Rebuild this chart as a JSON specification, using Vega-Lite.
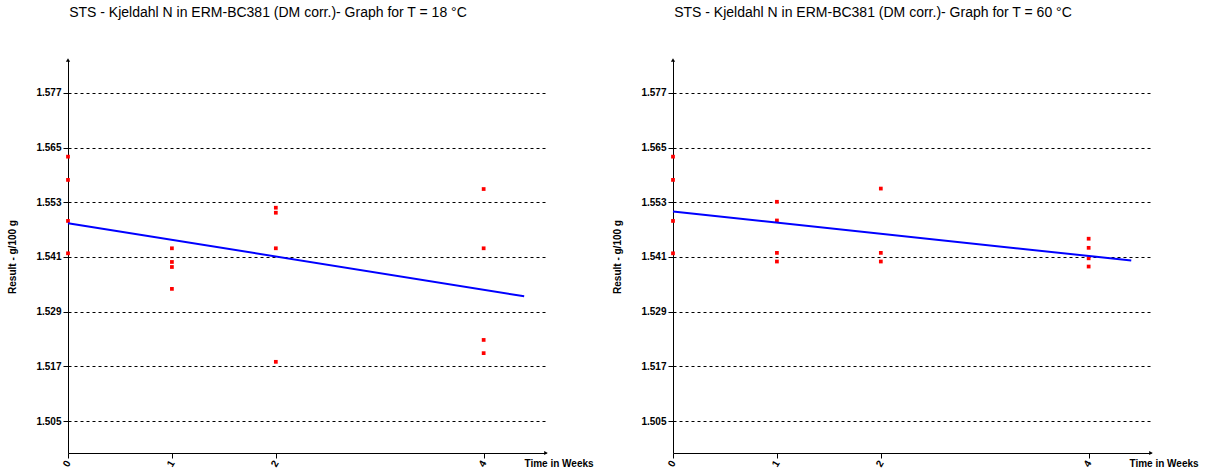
{
  "$schema": "https://vega.github.io/schema/vega-lite/v6.json",
  "background": "white",
  "padding": {"left": 7, "top": 6, "right": 0, "bottom": 0},
  "bounds": "flush",
  "spacing": 127,
  "datasets": {
    "t18": [
      {"week": 0, "result": 1.5630}, {"week": 0, "result": 1.5579}, {"week": 0, "result": 1.5489}, {"week": 0, "result": 1.5418},
      {"week": 1, "result": 1.5429}, {"week": 1, "result": 1.5399}, {"week": 1, "result": 1.5388}, {"week": 1, "result": 1.5340},
      {"week": 2, "result": 1.5518}, {"week": 2, "result": 1.5507}, {"week": 2, "result": 1.5429}, {"week": 2, "result": 1.5180},
      {"week": 4, "result": 1.5559}, {"week": 4, "result": 1.5429}, {"week": 4, "result": 1.5228}, {"week": 4, "result": 1.5199}
    ],
    "t60": [
      {"week": 0, "result": 1.5630}, {"week": 0, "result": 1.5579}, {"week": 0, "result": 1.5489}, {"week": 0, "result": 1.5418},
      {"week": 1, "result": 1.5531}, {"week": 1, "result": 1.5490}, {"week": 1, "result": 1.5419}, {"week": 1, "result": 1.5400},
      {"week": 2, "result": 1.5560}, {"week": 2, "result": 1.5419}, {"week": 2, "result": 1.5400},
      {"week": 4, "result": 1.5450}, {"week": 4, "result": 1.5430}, {"week": 4, "result": 1.5407}, {"week": 4, "result": 1.5389}
    ],
    "axisEnds": [
      {"week": 0, "result": 1.5842, "dir": "up"},
      {"week": 4.6, "result": 1.498, "dir": "right"}
    ]
  },
  "hconcat": [
    {
      "width": 478,
      "height": 393,
      "title": {"text": "STS - Kjeldahl N in ERM-BC381 (DM corr.)- Graph for T = 18 °C", "dx": -39},
      "layer": [
        {
          "data": {"name": "t18"},
          "mark": {"type": "point", "shape": "square", "filled": true, "size": 14, "color": "#ff0000", "opacity": 1},
          "encoding": {
            "x": {"field": "week", "type": "quantitative", "scale": {"domain": [0, 4.6], "nice": false, "zero": false},
                  "axis": {"values": [0, 1, 2, 4], "format": "d", "title": "Time in  Weeks", "titleX": 456, "titleY": 10}},
            "y": {"field": "result", "type": "quantitative", "scale": {"domain": [1.498, 1.5842], "nice": false, "zero": false},
                  "axis": {"values": [1.505, 1.517, 1.529, 1.541, 1.553, 1.565, 1.577], "format": ".3f", "title": "Result - g/100 g"}}
          }
        },
        {
          "data": {"name": "t18"},
          "transform": [{"regression": "result", "on": "week", "extent": [0, 4.39]}],
          "mark": {"type": "line", "color": "#0000ff", "strokeWidth": 2},
          "encoding": {
            "x": {"field": "week", "type": "quantitative"},
            "y": {"field": "result", "type": "quantitative"}
          }
        },
        {
          "data": {"name": "axisEnds"},
          "mark": {"type": "point", "filled": true, "color": "black", "size": 18, "opacity": 1},
          "encoding": {
            "x": {"field": "week", "type": "quantitative"},
            "y": {"field": "result", "type": "quantitative"},
            "shape": {"field": "dir", "type": "nominal", "scale": {"domain": ["up", "right"], "range": ["triangle-up", "triangle-right"]}, "legend": null}
          }
        }
      ]
    },
    {
      "width": 478,
      "height": 393,
      "title": {"text": "STS - Kjeldahl N in ERM-BC381 (DM corr.)- Graph for T = 60 °C", "dx": -39},
      "layer": [
        {
          "data": {"name": "t60"},
          "mark": {"type": "point", "shape": "square", "filled": true, "size": 14, "color": "#ff0000", "opacity": 1},
          "encoding": {
            "x": {"field": "week", "type": "quantitative", "scale": {"domain": [0, 4.6], "nice": false, "zero": false},
                  "axis": {"values": [0, 1, 2, 4], "format": "d", "title": "Time in  Weeks", "titleX": 456, "titleY": 10}},
            "y": {"field": "result", "type": "quantitative", "scale": {"domain": [1.498, 1.5842], "nice": false, "zero": false},
                  "axis": {"values": [1.505, 1.517, 1.529, 1.541, 1.553, 1.565, 1.577], "format": ".3f", "title": "Result - g/100 g"}}
          }
        },
        {
          "data": {"name": "t60"},
          "transform": [{"regression": "result", "on": "week", "extent": [0, 4.41]}],
          "mark": {"type": "line", "color": "#0000ff", "strokeWidth": 2},
          "encoding": {
            "x": {"field": "week", "type": "quantitative"},
            "y": {"field": "result", "type": "quantitative"}
          }
        },
        {
          "data": {"name": "axisEnds"},
          "mark": {"type": "point", "filled": true, "color": "black", "size": 18, "opacity": 1},
          "encoding": {
            "x": {"field": "week", "type": "quantitative"},
            "y": {"field": "result", "type": "quantitative"},
            "shape": {"field": "dir", "type": "nominal", "scale": {"domain": ["up", "right"], "range": ["triangle-up", "triangle-right"]}, "legend": null}
          }
        }
      ]
    }
  ],
  "config": {
    "view": {"stroke": null},
    "font": "Liberation Sans",
    "title": {"font": "Liberation Sans", "fontSize": 14, "fontWeight": "normal", "color": "black", "anchor": "middle", "frame": "group", "offset": 38},
    "axis": {
      "labelFont": "Liberation Sans", "labelFontSize": 10, "labelFontWeight": "bold", "labelColor": "black",
      "titleFont": "Liberation Sans", "titleFontSize": 10, "titleFontWeight": "bold", "titleColor": "black",
      "domainColor": "black", "domainWidth": 1, "tickColor": "black", "tickSize": 5
    },
    "axisY": {"grid": true, "gridColor": "black", "gridDash": [3, 3], "gridWidth": 1, "gridOpacity": 1, "labelPadding": 2, "titlePadding": 18},
    "axisX": {"grid": false, "labelAngle": -60, "labelPadding": 3, "titleAlign": "left", "titleBaseline": "middle", "titleAnchor": "start"}
  }
}
